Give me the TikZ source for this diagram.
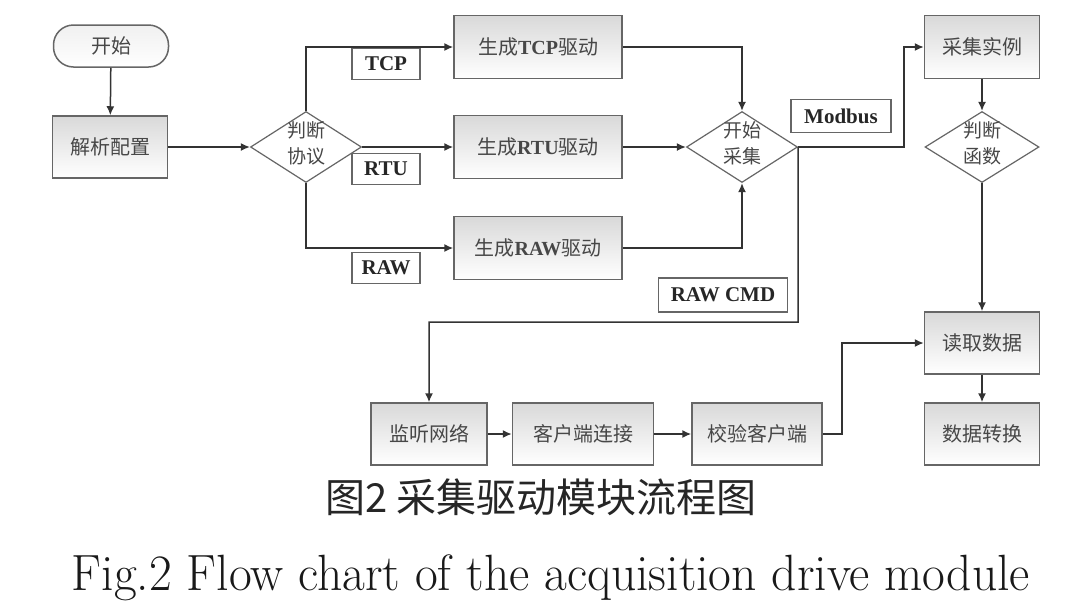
\documentclass[tikz,border=0pt]{standalone}
\usepackage{fontspec}
\usetikzlibrary{shapes.geometric,arrows.meta}
\newfontfamily\cjk{Noto Sans CJK SC}
\newfontfamily\tms{Liberation Serif}
\definecolor{edgec}{HTML}{333333}
\definecolor{txtc}{HTML}{474747}
\definecolor{framec}{HTML}{666666}
\newcommand{\dtext}[2]{\raisebox{-6pt}{\makebox[0pt]{\smash{\begin{tabular}{@{}c@{}}#1\\#2\end{tabular}}}}}
\newcommand{\lat}[1]{{\tms\bfseries #1}}
\begin{document}
\begin{tikzpicture}[x=1pt,y=-1pt,
  box/.style={draw=framec, line width=1.5pt, top color=black!15, bottom color=white,
    minimum width=115pt, minimum height=62pt, inner sep=0pt,
    font=\cjk\fontsize{20}{24}\selectfont, text=txtc},
  term/.style={box, rounded corners=20pt, minimum height=42pt, top color=black!6},
  dia/.style={draw=framec, line width=1.2pt, shape=diamond, fill=white,
    minimum width=111pt, minimum height=71pt, inner sep=0pt,
    font=\cjk\fontsize{19}{26}\selectfont, text=txtc},
  lbl/.style={draw=framec, line width=1.2pt, fill=white, inner sep=0pt,
    minimum width=68pt, minimum height=31pt,
    font=\tms\bfseries\fontsize{21}{24}\selectfont, text=black!85},
  arr/.style={draw=edgec, line width=1.5pt, -{Latex[length=9pt,width=8pt]}},
  ln/.style={draw=edgec, line width=1.5pt}]
\useasboundingbox (0,0) rectangle (1078,603);
\fill[white] (0,0) rectangle (1078,603);

% nodes
\node[term] (start) at (111,46) {开始};
\node[box] (parse) at (110,147) {解析配置};
\node[dia] (proto) at (306,147) {\dtext{判断}{协议}};
\node[box, minimum width=168pt, minimum height=63pt] (gtcp) at (538,47) {生成\lat{TCP}驱动};
\node[box, minimum width=168pt, minimum height=63pt] (grtu) at (538,147) {生成\lat{RTU}驱动};
\node[box, minimum width=168pt, minimum height=63pt] (graw) at (538,248) {生成\lat{RAW}驱动};
\node[lbl] (ltcp) at (386,64) {TCP};
\node[lbl] (lrtu) at (386,169) {RTU};
\node[lbl] (lraw) at (386,268) {RAW};
\node[dia] (acq) at (742,147) {\dtext{开始}{采集}};
\node[lbl, minimum width=100pt, minimum height=33pt] (lmod) at (841,116) {Modbus};
\node[box, minimum height=63pt] (inst) at (982,47) {采集实例};
\node[dia, minimum width=114pt] (func) at (982,147) {\dtext{判断}{函数}};
\node[box] (read) at (982,343) {读取数据};
\node[box] (conv) at (982,434) {数据转换};
\node[lbl, minimum width=129pt, minimum height=34pt] (lcmd) at (723,295) {RAW CMD};
\node[box, minimum width=116pt] (listen) at (429,434) {监听网络};
\node[box, minimum width=141pt] (client) at (583,434) {客户端连接};
\node[box, minimum width=130pt] (verify) at (757,434) {校验客户端};

\coordinate (m1) at (904,147);
\coordinate (t1) at (798,322);
\coordinate (v1) at (842,434);

% connectors
\draw[arr] (start) -- (parse);
\draw[arr] (parse) -- (proto);
\draw[arr] (proto.north) |- (gtcp.west);
\draw[arr] (proto.east) -- (grtu.west);
\draw[arr] (proto.south) |- (graw.west);
\draw[arr] (gtcp.east) -| (acq.north);
\draw[arr] (grtu.east) -- (acq.west);
\draw[arr] (graw.east) -| (acq.south);
\draw[arr] (acq.east) -- (m1) |- (inst.west);
\draw[arr] (inst) -- (func);
\draw[arr] (func) -- (read);
\draw[arr] (read) -- (conv);
\draw[arr] (acq.east) -- (t1) -| (listen.north);
\draw[arr] (listen) -- (client);
\draw[arr] (client) -- (verify);
\draw[arr] (verify.east) -- (v1) |- (read.west);

% captions
\node[anchor=base, font=\cjk\fontsize{40}{46}\selectfont, text=black!85] (capcn) at (541,512) {图2 采集驱动模块流程图};
\node[anchor=base, text=black!90] (capen) at (551,590)
  {\resizebox{958pt}{\height}{\fontsize{51}{58}\selectfont Fig.2 Flow chart of the acquisition drive module}};
\end{tikzpicture}
\end{document}
